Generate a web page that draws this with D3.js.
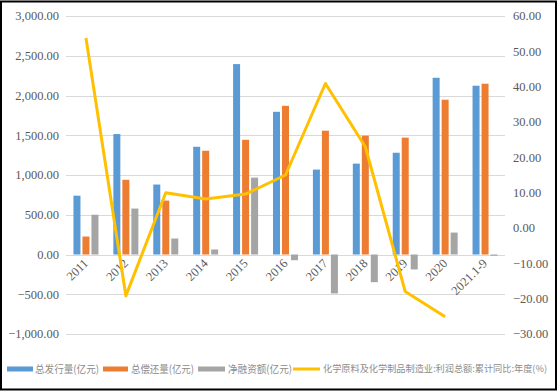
<!DOCTYPE html>
<html>
<head>
<meta charset="utf-8">
<script src="https://cdn.jsdelivr.net/npm/d3@7"></script>
<style>
html,body{margin:0;padding:0;background:#fff;}
svg{display:block;}
</style>
</head>
<body>
<svg id="chart" width="560" height="392"></svg>
<script>
const categories = ["2011","2012","2013","2014","2015","2016","2017","2018","2019","2020","2021.1-9"];
const issuance = [740, 1515, 880, 1355, 2395, 1795, 1068, 1143, 1280, 2223, 2123];
const repayment = [226, 940, 678, 1305, 1443, 1870, 1557, 1495, 1470, 1947, 2148];
const netFinancing = [500, 578, 201, 63, 967, -72, -490, -348, -188, 276, -15];
const profitYoY = [53.8, -19.2, 10.0, 8.2, 9.6, 15.0, 40.9, 23.0, -18.0, -25.1, null];
const leftTicks = [-1000, -500, 0, 500, 1000, 1500, 2000, 2500, 3000];
const rightTicks = [-30, -20, -10, 0, 10, 20, 30, 40, 50, 60];
const seriesNames = ["总发行量(亿元)", "总偿还量(亿元)", "净融资额(亿元)", "化学原料及化学制品制造业:利润总额:累计同比:年度(%)"];

const colors = ["#5b9bd5", "#ed7d31", "#a5a5a5", "#ffc000"];
const svg = d3.select("#chart");
const plotL = 66, plotR = 505, plotT = 16, plotB = 334;

const x = d3.scaleBand().domain(categories).range([plotL, plotR]);
const yL = d3.scaleLinear().domain([-1000, 3000]).range([plotB, plotT]);
const yR = d3.scaleLinear().domain([-30, 60]).range([plotB, plotT]);

// border
svg.append("rect").attr("x", 1).attr("y", 1.5).attr("width", 555).attr("height", 388)
  .attr("fill", "none").attr("stroke", "#000").attr("stroke-width", 2);

// gridlines
svg.append("g").selectAll("line").data(leftTicks).join("line")
  .attr("x1", plotL).attr("x2", plotR)
  .attr("y1", d => Math.round(yL(d)) + 0.5).attr("y2", d => Math.round(yL(d)) + 0.5)
  .attr("stroke", "#d9d9d9").attr("stroke-width", 1);

const serif = "'Liberation Serif','Times New Roman',serif";
// left axis
const fmt = d3.format(",.2f");
svg.append("g").selectAll("text").data(leftTicks).join("text")
  .attr("x", 59).attr("y", d => yL(d)).attr("dy", "0.35em")
  .attr("text-anchor", "end").attr("font-family", serif).attr("font-size", 12.5)
  .attr("fill", "#595959").text(d => fmt(d));
// right axis
svg.append("g").selectAll("text").data(rightTicks).join("text")
  .attr("x", 513).attr("y", d => yR(d)).attr("dy", "0.35em")
  .attr("text-anchor", "start").attr("font-family", serif).attr("font-size", 12.5)
  .attr("fill", "#595959").text(d => d3.format(".2f")(d));

// bars
const bw = 7, step = 9;
const series = [issuance, repayment, netFinancing];
series.forEach((vals, si) => {
  svg.append("g").selectAll("rect").data(vals).join("rect")
    .attr("x", (d, i) => x(categories[i]) + x.bandwidth() / 2 + (si - 1) * step - bw / 2)
    .attr("y", d => yL(Math.max(0, d)))
    .attr("width", bw)
    .attr("height", d => Math.abs(yL(d) - yL(0)))
    .attr("fill", colors[si]);
});

// x labels
svg.append("g").selectAll("text").data(categories).join("text")
  .attr("transform", d => `translate(${x(d) + x.bandwidth() / 2 + 3},${264}) rotate(-45)`)
  .attr("text-anchor", "end").attr("font-family", serif).attr("font-size", 12.5)
  .attr("fill", "#595959").text(d => d);

// line
const line = d3.line()
  .defined(d => d != null)
  .x((d, i) => x(categories[i]) + x.bandwidth() / 2)
  .y(d => yR(d));
svg.append("path").datum(profitYoY).attr("d", line)
  .attr("fill", "none").attr("stroke", colors[3]).attr("stroke-width", 3)
  .attr("stroke-linejoin", "round");

// legend
const lg = svg.append("g");
const ly = 369;
const legendItems = [
  {x0: 7, w: 26, tx: 35, tw: 64},
  {x0: 103, w: 25, tx: 131, tw: 63},
  {x0: 198, w: 27, tx: 228, tw: 64},
  {x0: 293, w: 27, tx: 323, tw: 224}
];
const sans = "'Noto Sans CJK SC','Noto Sans',sans-serif";
legendItems.forEach((it, i) => {
  if (i < 3) {
    lg.append("rect").attr("x", it.x0).attr("y", ly - 2.5).attr("width", it.w).attr("height", 5).attr("fill", colors[i]);
  } else {
    lg.append("line").attr("x1", it.x0).attr("x2", it.x0 + it.w).attr("y1", ly).attr("y2", ly)
      .attr("stroke", colors[3]).attr("stroke-width", 3);
  }
  lg.append("text").attr("x", it.tx).attr("y", ly).attr("dy", "0.35em")
    .attr("font-family", sans).attr("font-size", i < 3 ? 10.5 : 9.5).attr("fill", "#8c8c8c")
    .attr("textLength", it.tw).attr("lengthAdjust", "spacingAndGlyphs")
    .text(seriesNames[i]);
});
</script>
</body>
</html>
